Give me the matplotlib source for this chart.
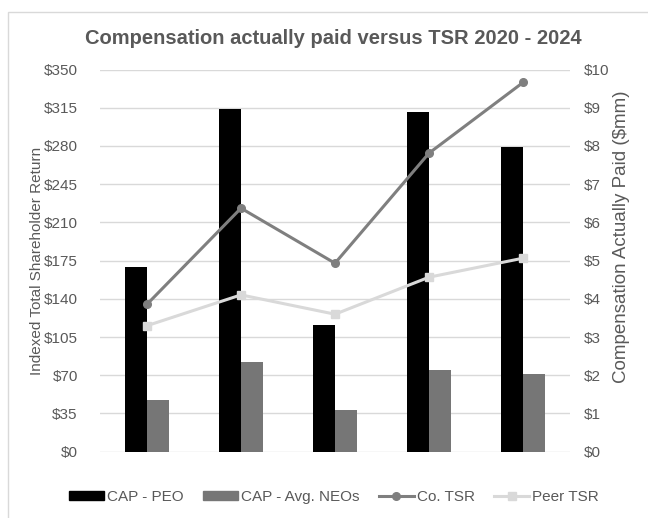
import matplotlib
matplotlib.use("Agg")
import matplotlib.pyplot as plt
import numpy as np
from matplotlib.lines import Line2D
from matplotlib.patches import Patch, Rectangle

years = ["2020", "2021", "2022", "2023", "2024"]
cap_peo = [4.84, 8.96, 3.31, 8.90, 7.98]       # $mm
cap_neos = [1.35, 2.34, 1.08, 2.13, 2.03]      # $mm
co_tsr = [135.0, 223.0, 172.6, 273.4, 338.1]   # indexed $
peer_tsr = [115.4, 143.6, 125.9, 159.8, 177.2]

txt = "#595959"
grid = "#d9d9d9"
plt.rcParams["font.family"] = ["Liberation Sans", "DejaVu Sans"]

fig = plt.figure(figsize=(6.48, 5.18), dpi=100)
W, H = 648, 518
ax2 = fig.add_axes([100 / W, 1 - 451.7 / H, 470 / W, (451.7 - 69.5) / H])
ax = ax2.twinx()
ax.set_zorder(ax2.get_zorder() + 1)
ax.patch.set_visible(False)

# frame around chart (top and left edges visible)
fig.patches.append(Rectangle((8 / W, -0.1), 1.2, 1 - 12 / H + 0.1, transform=fig.transFigure,
                             fill=False, edgecolor="#d9d9d9", lw=1.0))

x = np.arange(len(years))
w = 0.237
ax2.bar(x - w / 2, cap_peo, w, color="#000000", zorder=3)
ax2.bar(x + w / 2, cap_neos, w, color="#767676", zorder=3)
ax2.set_ylim(0, 10)
ax2.set_yticks(np.arange(0, 11, 1))
ax2.yaxis.tick_right()
ax2.set_yticklabels(["$%d" % v for v in range(11)])
ax2.grid(axis="y", color=grid, lw=1.0, zorder=0)
ax2.set_axisbelow(True)

ax.plot(x, co_tsr, color="#7f7f7f", lw=2.2, marker="o", ms=5.5, zorder=4)
ax.plot(x, peer_tsr, color="#d9d9d9", lw=2.2, marker="s", ms=5.5, zorder=4)
ax.set_ylim(0, 350)
ax.set_yticks(np.arange(0, 351, 35))
ax.yaxis.tick_left()
ax.set_yticklabels(["$%d" % v for v in range(0, 351, 35)])

for a in (ax, ax2):
    a.set_xlim(-0.5, len(years) - 0.5)
    for s in a.spines.values():
        s.set_visible(False)
    a.tick_params(length=0, labelsize=11, labelcolor=txt)
ax.tick_params(axis="y", pad=16)
ax2.tick_params(axis="y", pad=10)
ax2.set_xticks(x)
ax2.set_xticklabels(years)
ax2.tick_params(axis="x", pad=7)
ax.set_xticks([])

fig.text(333 / W, 1 - 39 / H, "Compensation actually paid versus TSR 2020 - 2024",
         ha="center", va="center", fontsize=14.5, fontweight="bold", color=txt)
fig.text(37 / W, 1 - 261 / H, "Indexed Total Shareholder Return", rotation=90,
         ha="center", va="center", fontsize=11, color=txt)
fig.text(622 / W, 1 - 237 / H, "Compensation Actually Paid ($mm)", rotation=90,
         ha="center", va="center", fontsize=13.5, color=txt)

handles = [Patch(color="#000000"), Patch(color="#767676"),
           Line2D([], [], color="#7f7f7f", lw=2.2, marker="o", ms=5.5),
           Line2D([], [], color="#d9d9d9", lw=2.2, marker="s", ms=5.5)]
labels = ["CAP - PEO", "CAP - Avg. NEOs", "Co. TSR", "Peer TSR"]
leg = fig.legend(handles, labels, loc="center", bbox_to_anchor=(334 / W, 1 - 497 / H), ncol=4,
                 frameon=False, fontsize=11, handlelength=2.3, handleheight=0.45,
                 handletextpad=0.2, columnspacing=1.25, labelcolor=txt)

fig.savefig("out.png", dpi=100)
